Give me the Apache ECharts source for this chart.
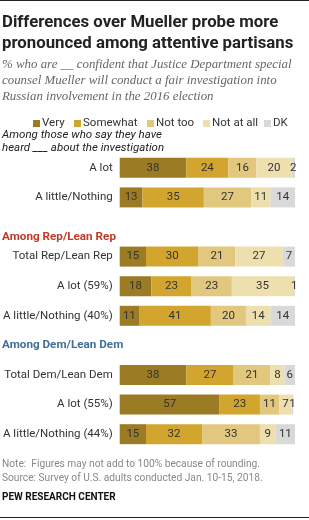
<!DOCTYPE html>
<html>
<head>
<meta charset="utf-8">
<script src="https://cdn.jsdelivr.net/npm/echarts@6/dist/echarts.min.js"></script>
<style>
  html, body { margin: 0; padding: 0; background: #fff; }
  #chart { width: 309px; height: 520px; }
</style>
</head>
<body>
<div id="chart"></div>
<script>
// rows, top to bottom (blank rows leave room for group headers)
var rows = ['A lot', 'A little/Nothing', ' ', 'Total Rep/Lean Rep', 'A lot (59%)', 'A little/Nothing (40%)', '  ', 'Total Dem/Lean Dem', 'A lot (55%)', 'A little/Nothing (44%)'];
var seriesNames = ['Very', 'Somewhat', 'Not too', 'Not at all', 'DK'];
var colors = ['#9b7c24', '#d2a52f', '#e2c77f', '#eddfae', '#d9d9d9'];

var very     = [38, 13, '-', 15, 18, 11, '-', 38, 57, 15];
var somewhat = [24, 35, '-', 30, 23, 41, '-', 27, 23, 32];
var notToo   = [16, 27, '-', 21, 23, 20, '-', 21, 11, 33];
var notAtAll = [20, 11, '-', 27, 35, 14, '-', 8, 7, 9];
var dk       = [2, 14, '-', 7, 1, 14, '-', 6, 1, 11];
var values = [very, somewhat, notToo, notAtAll, dk];

var font = 'Roboto, "Liberation Sans", sans-serif';

var chart = echarts.init(document.getElementById('chart'));

var series = seriesNames.map(function (n, i) {
  return {
    name: n,
    type: 'bar',
    stack: 'all',
    barWidth: 20,
    data: values[i],
    itemStyle: { color: colors[i] },
    label: {
      show: true,
      position: 'inside',
      color: '#333',
      fontFamily: font,
      fontSize: 11.5
    }
  };
});

// legend drawn by hand so the spacing matches
var legendX = [33, 74, 147, 203, 264];
var graphic = [
  { type: 'rect', shape: { x: 0, y: 0, width: 309, height: 1 }, style: { fill: '#222' } },
  { type: 'text', left: 2, top: 12, style: { text: 'Differences over Mueller probe more\npronounced among attentive partisans', font: 'bold 16.8px ' + font, fill: '#222', lineHeight: 21 } },
  { type: 'text', left: 2, top: 57, style: { text: '% who are __ confident that Justice Department special\ncounsel Mueller will conduct a fair investigation into\nRussian involvement in the 2016 election', font: 'italic 12.9px "Liberation Serif", serif', fill: '#666', lineHeight: 16 } },
  { type: 'text', left: 2, top: 129, style: { text: 'Among those who say they have\nheard ___ about the investigation', font: 'italic 11.5px ' + font, fill: '#222', lineHeight: 12.5 } },
  { type: 'text', left: 2, top: 231, style: { text: 'Among Rep/Lean Rep', font: 'bold 11.7px ' + font, fill: '#bf3b27' } },
  { type: 'text', left: 2, top: 339, style: { text: 'Among Dem/Lean Dem', font: 'bold 11.7px ' + font, fill: '#3f6f9a' } },
  { type: 'text', left: 2, top: 457, style: { text: 'Note:  Figures may not add to 100% because of rounding.\nSource: Survey of U.S. adults conducted Jan. 10-15, 2018.', font: '10.2px ' + font, fill: '#888', lineHeight: 14.5 } },
  { type: 'text', left: 2, top: 492, style: { text: 'PEW RESEARCH CENTER', font: 'bold 10px ' + font, fill: '#111' } },
  { type: 'rect', shape: { x: 0, y: 517, width: 309, height: 1 }, style: { fill: '#222' } }
];
seriesNames.forEach(function (n, i) {
  graphic.push({ type: 'rect', shape: { x: legendX[i], y: 120, width: 7, height: 7 }, style: { fill: colors[i] } });
  graphic.push({ type: 'text', left: legendX[i] + 9, top: 117, style: { text: n, font: '11.5px ' + font, fill: '#333' } });
});

chart.setOption({
  animation: false,
  grid: { left: 119, right: 14, top: 153, bottom: 71, containLabel: false },
  xAxis: { type: 'value', min: 0, max: 100, show: false },
  yAxis: {
    type: 'category',
    inverse: true,
    data: rows,
    axisLine: { show: false },
    axisTick: { show: false },
    axisLabel: { color: '#333', fontFamily: font, fontSize: 11.5, margin: 7 }
  },
  graphic: graphic,
  series: series
});
</script>
</body>
</html>
